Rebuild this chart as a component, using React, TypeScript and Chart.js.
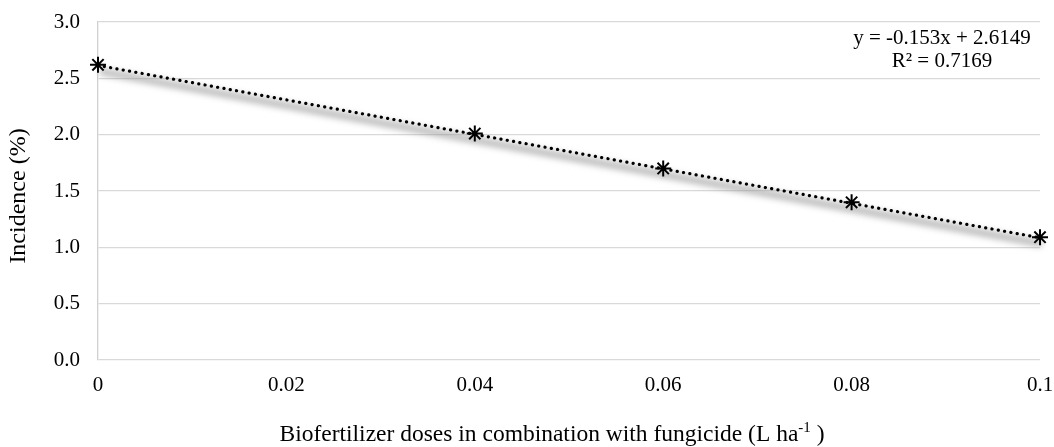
import React, { useEffect, useRef } from "react";
import { Chart, registerables } from "chart.js";

Chart.register(...registerables);

const doses = [0, 0.04, 0.06, 0.08, 0.1];
const incidence = [2.62, 2.01, 1.7, 1.4, 1.09];
const trendX = [0, 0.1];
const trendY = [2.6149, 1.0849];
const equationLines = ["y = -0.153x + 2.6149", "R² = 0.7169"];
const xTitleMain = "Biofertilizer doses in combination with fungicide (L ha";
const xTitleSup = "-1";
const xTitleEnd = " )";
const yTitle = "Incidence (%)";

const FONT = "'Liberation Serif', 'Times New Roman', serif";

const shadowPlugin = {
  id: "shadowPlugin",
  beforeDatasetDraw(chart: any, args: any) {
    if (args.index === 1) {
      const ctx = chart.ctx;
      ctx.save();
      ctx.translate(2, 6);
      ctx.filter = "blur(3px)";
    }
  },
  afterDatasetDraw(chart: any, args: any) {
    if (args.index === 1) {
      chart.ctx.restore();
    }
  },
};

const textPlugin = {
  id: "textPlugin",
  afterDraw(chart: any) {
    const ctx = chart.ctx;
    ctx.save();
    ctx.fillStyle = "#000";
    // equation
    ctx.font = `21px ${FONT}`;
    ctx.textAlign = "center";
    ctx.textBaseline = "middle";
    ctx.fillText(equationLines[0], 942, 38);
    ctx.fillText(equationLines[1], 942, 61);
    // x title with superscript
    const mainFont = `23.5px ${FONT}`;
    const supFont = `15px ${FONT}`;
    ctx.font = mainFont;
    const w1 = ctx.measureText(xTitleMain).width;
    const w3 = ctx.measureText(xTitleEnd).width;
    ctx.font = supFont;
    const w2 = ctx.measureText(xTitleSup).width;
    const total = w1 + w2 + w3;
    let x = 552 - total / 2;
    const baseY = 441;
    ctx.textAlign = "left";
    ctx.textBaseline = "alphabetic";
    ctx.font = mainFont;
    ctx.fillText(xTitleMain, x, baseY);
    x += w1;
    ctx.font = supFont;
    ctx.fillText(xTitleSup, x, baseY - 9);
    x += w2;
    ctx.font = mainFont;
    ctx.fillText(xTitleEnd, x, baseY);
    // y title
    ctx.translate(19, 196);
    ctx.rotate(-Math.PI / 2);
    ctx.font = `24px ${FONT}`;
    ctx.textAlign = "center";
    ctx.textBaseline = "middle";
    ctx.fillText(yTitle, 0, 0);
    ctx.restore();
  },
};

export default function App() {
  const ref = useRef<HTMLCanvasElement>(null);
  useEffect(() => {
    document.body.style.margin = "0";
    const chart = new Chart(ref.current!, {
      type: "scatter",
      data: {
        datasets: [
          {
            label: "Incidence",
            data: doses.map((x, i) => ({ x, y: incidence[i] })),
            showLine: false,
            pointStyle: "star",
            radius: 8,
            borderColor: "#000",
            backgroundColor: "#000",
            borderWidth: 2,
            clip: false,
            order: 0,
          },
          {
            label: "shadow",
            data: trendX.map((x, i) => ({ x, y: trendY[i] })),
            showLine: true,
            borderColor: "rgba(140,140,140,0.6)",
            borderWidth: 7,
            pointRadius: 0,
            clip: false,
            order: 2,
          },
          {
            label: "trend",
            data: trendX.map((x, i) => ({ x, y: trendY[i] })),
            showLine: true,
            borderColor: "#000",
            borderWidth: 3.2,
            borderDash: [0.1, 6.3],
            borderCapStyle: "round",
            pointRadius: 0,
            order: 1,
          },
        ],
      },
      options: {
        animation: false,
        responsive: false,
        maintainAspectRatio: false,
        layout: { padding: { top: 22, right: 14, left: 0, bottom: 0 } },
        plugins: { legend: { display: false }, tooltip: { enabled: false } },
        scales: {
          x: {
            type: "linear",
            min: 0,
            max: 0.1,
            afterFit(scale: any) {
              scale.height = 87;
              scale.paddingLeft = 0;
              scale.paddingRight = 0;
            },
            ticks: {
              stepSize: 0.02,
              padding: 13,
              color: "#000",
              font: { family: FONT, size: 21 },
              callback: (v: any) => String(Number(Number(v).toFixed(2))),
            },
            grid: { display: false, drawTicks: false },
            border: { display: false },
            title: { display: false },
          },
          y: {
            min: 0,
            max: 3,
            afterFit(scale: any) {
              scale.width = 98;
              scale.paddingTop = 0;
              scale.paddingBottom = 0;
            },
            ticks: {
              stepSize: 0.5,
              padding: 18,
              color: "#000",
              font: { family: FONT, size: 21 },
              callback: (v: any) => Number(v).toFixed(1),
            },
            grid: { color: "#d9d9d9", lineWidth: 1.3, drawTicks: false },
            border: { display: true, color: "#d0d0d0", width: 1.3 },
            title: { display: false },
          },
        },
      },
      plugins: [shadowPlugin, textPlugin],
    } as any);
    return () => chart.destroy();
  }, []);
  return (
    <div style={{ width: 1054, height: 447 }}>
      <canvas ref={ref} width={1054} height={447} style={{ display: "block" }} />
    </div>
  );
}
